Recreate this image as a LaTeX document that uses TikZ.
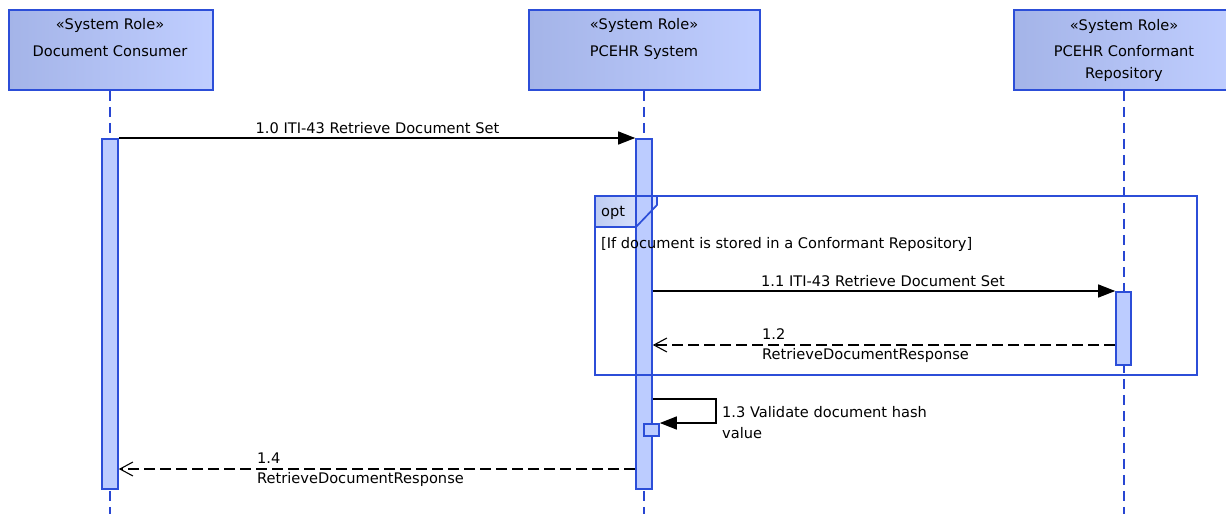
\documentclass[tikz,border=0pt]{standalone}
\usepackage{fontspec}
\setmainfont{DejaVu Sans}
\usetikzlibrary{arrows.meta}
\definecolor{boxL}{RGB}{164,180,232}
\definecolor{boxR}{RGB}{192,206,255}
\definecolor{edge}{RGB}{44,78,216}
\definecolor{actfill}{RGB}{188,204,255}
\definecolor{life}{RGB}{40,70,210}
\definecolor{tagL}{RGB}{190,204,242}
\definecolor{tagR}{RGB}{224,232,255}
\begin{document}
\begin{tikzpicture}[x=1pt,y=-1pt,
  font=\fontsize{14.6}{18}\selectfont,
  rolebox/.style={draw=edge, line width=1.8pt, left color=boxL, right color=boxR,
    minimum height=80pt, anchor=north west, inner sep=0pt},
  actbar/.style={draw=edge, line width=1.6pt, fill=actfill, anchor=north, inner sep=0pt},
  lifeline/.style={draw=life, line width=1.5pt, dash pattern=on 10pt off 6pt},
  callmsg/.style={draw=black, line width=1.3pt, -{Triangle[length=17pt,width=13pt]}},
  retmsg/.style={draw=black, line width=1.3pt, dash pattern=on 11pt off 5pt,
    -{Straight Barb[length=13pt,width=14pt,line width=1.1pt]}},
  lbl/.style={inner sep=0pt, anchor=base},
  lbll/.style={inner sep=0pt, anchor=base west}]
\useasboundingbox (0,0) rectangle (1226,514);
\fill[white] (0,0) rectangle (1226,514);
\begin{scope}
\clip (0,0) rectangle (1226,514);
% role boxes
\node[rolebox, minimum width=204pt] (cons) at (8,9) {};
\node[rolebox, minimum width=231pt] (pcehr) at (528,9) {};
\node[rolebox, minimum width=222pt] (repo) at (1013,9) {};
\node[lbl] (consA) at (110,29) {«System Role»};
\node[lbl] (consB) at (110,56) {Document Consumer};
\node[lbl] (pcehrA) at (644,29) {«System Role»};
\node[lbl] (pcehrB) at (644,56) {PCEHR System};
\node[lbl] (repoA) at (1124,30) {«System Role»};
\node[lbl] (repoB) at (1124,56) {PCEHR Conformant};
\node[lbl] (repoC) at (1124,78) {Repository};
% lifelines
\coordinate (endC) at (110,514);
\coordinate (endS) at (644,514);
\coordinate (endR) at (1124,514);
\draw[lifeline] (cons.south -| endC) -- (endC);
\draw[lifeline] (pcehr.south -| endS) -- (endS);
\draw[lifeline] (repo.south -| endR) -- (endR);
% opt tag fill
\fill[left color=tagL, right color=tagR] (595,196) -- (657,196) -- (657,205) -- (636,227) -- (595,227) -- cycle;
% activation bars
\node[actbar, minimum width=16pt, minimum height=350pt] (actC) at (110,138) {};
\node[actbar, minimum width=16pt, minimum height=350pt] (actS) at (644,138) {};
\node[actbar, minimum width=15pt, minimum height=73pt] (actR) at (1123.5,291) {};
\node[actbar, minimum width=15pt, minimum height=12pt] (actS2) at (651.5,423) {};
% opt frame
\draw[edge, line width=1.7pt] (657,196) -- (657,205) -- (636,227) -- (595,227);
\draw[edge, line width=1.8pt] (595,196) rectangle (1197,375);
\node[lbll] (optT) at (601,216) {opt};
\node[lbll] (guard) at (601,248) {[If document is stored in a Conformant Repository]};
% messages
\coordinate (y12) at (0,345);
\coordinate (y13) at (0,399);
\coordinate (y14) at (0,469);
\draw[callmsg] (actC.north east) -- (actS.north west);
\node[lbl] (l10) at (377.5,133) {1.0 ITI-43 Retrieve Document Set};
\draw[callmsg] (actS.east |- actR.north) -- (actR.north west);
\node[lbl] (l11) at (883,286) {1.1 ITI-43 Retrieve Document Set};
\draw[retmsg] (actR.west |- y12) -- (actS.east |- y12);
\node[lbll] (l12a) at (762,339) {1.2};
\node[lbll] (l12b) at (762,359) {RetrieveDocumentResponse};
\draw[callmsg] (actS.east |- y13) -- (716,399) |- (actS2.north east);
\node[lbll] (l13a) at (722,417) {1.3 Validate document hash};
\node[lbll] (l13b) at (722,438) {value};
\draw[retmsg] (actS.west |- y14) -- (actC.east |- y14);
\node[lbll] (l14a) at (257,463) {1.4};
\node[lbll] (l14b) at (257,483) {RetrieveDocumentResponse};
\end{scope}
\end{tikzpicture}
\end{document}
